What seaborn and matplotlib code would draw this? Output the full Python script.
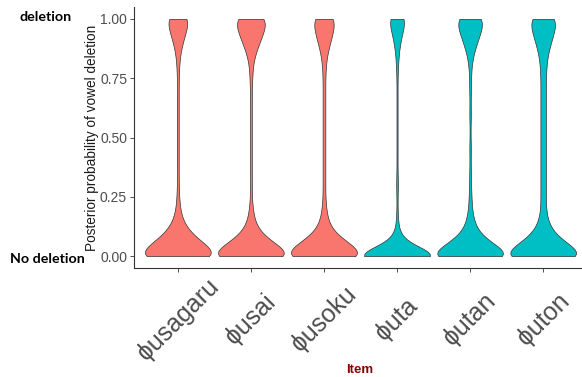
import numpy as np
import pandas as pd
import matplotlib
matplotlib.use("Agg")
import matplotlib.pyplot as plt
import seaborn as sns

# items on the x axis and their fill colours (two groups)
items = ["ɸusagaru", "ɸusai", "ɸusoku", "ɸuta", "ɸutan", "ɸuton"]
fills = ["#F8766D", "#F8766D", "#F8766D", "#00BFC4", "#00BFC4", "#00BFC4"]

# posterior values (levels) and how many draws sit at each level, per item
levels = [0.00, 0.05, 0.10, 0.15, 0.20, 0.25, 0.30, 0.35, 0.40, 0.45, 0.50,
          0.55, 0.60, 0.65, 0.70, 0.75, 0.80, 0.85, 0.90, 0.95, 1.00]
n_usagaru = [100, 62, 28, 11, 5, 3, 2, 2, 2, 2, 2, 2, 2, 2, 2, 2, 3, 5, 11, 19, 27]
n_usai = [100, 55, 20, 8, 4, 2, 2, 2, 2, 2, 2, 2, 2, 2, 2, 3, 4, 9, 19, 29, 37]
n_usoku = [100, 60, 22, 9, 5, 3, 3, 3, 3, 3, 3, 3, 3, 3, 3, 3, 4, 7, 14, 21, 26]
n_uta = [100, 20, 4, 2, 1, 1, 2, 1, 1, 1, 1, 1, 1, 1, 1, 1, 2, 3, 6, 11, 17]
n_utan = [100, 50, 18, 8, 4, 3, 2, 2, 1, 2, 1, 1, 2, 1, 2, 2, 3, 7, 15, 24, 31]
n_uton = [100, 55, 22, 10, 6, 6, 6, 6, 6, 6, 6, 6, 6, 6, 6, 6, 7, 10, 17, 25, 31]

counts = [n_usagaru, n_usai, n_usoku, n_uta, n_utan, n_uton]
rows = []
for it, cn in zip(items, counts):
    for v in np.repeat(levels, cn):
        rows.append((it, v))
df = pd.DataFrame(rows, columns=["Item", "prob"])

sns.set_style("ticks")
plt.rcParams['font.family'] = ['Liberation Sans', 'DejaVu Sans']

fig = plt.figure(figsize=(5.82, 3.77), dpi=100)
ax = fig.add_axes([134/582, 1-268/377, 453/582, 261/377])

sns.violinplot(data=df, x="Item", y="prob", hue="Item", palette=fills,
               order=items, hue_order=items, legend=False,
               cut=0, density_norm="width", width=0.9, inner=None,
               bw_method=lambda k: 0.035/k.dataset.std(ddof=1),
               linewidth=0.5, linecolor="#333333", saturation=1, ax=ax)

ax.set_xlim(-0.6, 5.6)
ax.set_ylim(-0.05, 1.05)
ax.set_yticks([0, 0.25, 0.5, 0.75, 1.0])
ax.set_yticklabels(["0.00", "0.25", "0.50", "0.75", "1.00"])
sns.despine(ax=ax)
for s in ["left", "bottom"]:
    ax.spines[s].set_color("#333333")
    ax.spines[s].set_linewidth(0.8)
ax.tick_params(axis="y", length=3, width=0.6, color="#333333", pad=2,
               labelsize=10, labelcolor="#4D4D4D")
ax.tick_params(axis="x", length=3, width=0.6, color="#333333", pad=34,
               labelsize=18, labelcolor="#4D4D4D")
for lab in ax.get_xticklabels():
    lab.set_rotation(45)
    lab.set_ha("center")
    lab.set_va("center")

ax.set_xlabel("")
ax.set_ylabel("Posterior probability of vowel deletion", fontsize=9.8, color="#1A1A1A")
ax.yaxis.set_label_coords(-0.078, 0.5)

fig.text(360/582, 1-370/377, "Item", ha="center", va="center",
         fontsize=9.5, fontweight="bold", color="#8B0000")
fig.text(20/582, 1-17/377, "deletion", ha="left", va="center",
         fontsize=10.3, fontweight="bold", family="Lato", color="black")
fig.text(10/582, 1-259/377, "No deletion", ha="left", va="center",
         fontsize=10.3, fontweight="bold", family="Lato", color="black")

fig.savefig("out.png", dpi=100)
